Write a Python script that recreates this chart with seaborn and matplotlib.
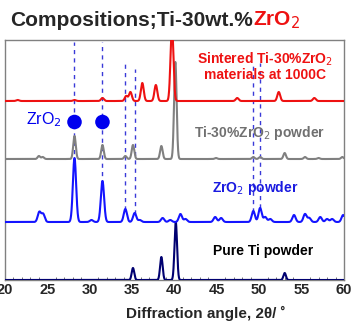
import numpy as np
import pandas as pd
import matplotlib
matplotlib.use('Agg')
import matplotlib.pyplot as plt
import seaborn as sns

sns.set_style('white')
plt.rcParams['font.family'] = ['Liberation Sans', 'DejaVu Sans']

# 피크 위치(2theta), 높이, 폭 - 그림에서 읽은 값
ti_pos = [35.1, 38.45, 40.15, 53.0]
ti_h = [12, 23, 58, 7]
ti_base = 0

zro2_pos = [24.05, 24.5, 28.2, 30.2, 31.5, 34.2, 35.3, 35.9, 38.6, 39.5, 40.7, 41.3, 44.8, 45.5,
            49.3, 50.1, 50.7, 51.3, 54.1, 55.4, 55.9, 57.2, 58.0, 58.6, 59.9]
zro2_h = [10, 8, 64, 2, 41, 13, 9, 2, 4, 2, 8, 3, 5, 4,
          11, 14, 5, 3, 7, 8, 4, 5, 3, 3, 7]
zro2_base = 58

mix_pos = [24.0, 24.45, 28.2, 31.5, 34.2, 35.1, 38.45, 40.1, 44.9, 49.3, 50.1, 53.0, 55.4, 57.0, 59.8]
mix_h = [3, 2, 23, 14, 3, 14, 13, 97, 1, 2, 2, 6, 2, 1, 2]
mix_base = 121

sint_pos = [21.5, 28.2, 31.5, 34.3, 34.8, 36.2, 37.8, 39.7, 47.4, 52.3, 56.5]
sint_h = [1, 1, 3, 5, 9, 18, 16, 75, 3, 9, 3]
sint_base = 179

# ZrO2 기준선 (점선)
ref_x = [28.2, 31.5, 34.2, 35.3, 49.3, 50.1]
ref_ymin = [118, 96, 70, 66, 68, 72]
ref_ymax = [238, 238, 217, 211, 217, 217]

twotheta = np.linspace(20, 60, 4001)


def pattern(pos, h, base, w):
    y = np.full_like(twotheta, float(base))
    for p, hh in zip(pos, h):
        y += hh * np.exp(-0.5 * ((twotheta - p) / w) ** 2)
    return y


df = pd.DataFrame({
    '2theta': twotheta,
    'ti': pattern(ti_pos, ti_h, ti_base, 0.15),
    'zro2': pattern(zro2_pos, zro2_h, zro2_base, 0.19),
    'mix': pattern(mix_pos, mix_h, mix_base, 0.15),
    'sint': pattern(sint_pos, sint_h, sint_base, 0.17),
})

fig = plt.figure(figsize=(3.56, 3.27), dpi=100)
ax = fig.add_axes([5 / 356, 47 / 327, 339 / 356, 240 / 327])

ax.vlines(ref_x, ref_ymin, ref_ymax, colors='#3a3ad8', linestyles=(0, (3, 3)), linewidth=1.0, zorder=1)

sns.lineplot(data=df, x='2theta', y='ti', color='#000070', linewidth=1.5, ax=ax, zorder=3)
sns.lineplot(data=df, x='2theta', y='zro2', color='#1414ff', linewidth=1.5, ax=ax, zorder=3)
sns.lineplot(data=df, x='2theta', y='mix', color='#808080', linewidth=1.5, ax=ax, zorder=3)
sns.lineplot(data=df, x='2theta', y='sint', color='#ee1111', linewidth=1.5, ax=ax, zorder=3)

sns.scatterplot(x=[28.2, 31.5], y=[158, 158], s=110, color='#0000ee', edgecolor='none', ax=ax, zorder=4)
ax.text(26.7, 160, 'ZrO$_2$', color='#0000ee', fontsize=11.5, ha='right', va='center')

ax.text(50.7, 214, 'Sintered Ti-30%ZrO$_2$\nmaterials at 1000C', color='#ee1111', fontsize=10,
        fontweight='bold', ha='center', va='center', linespacing=1.0)
ax.text(50.0, 147, 'Ti-30%ZrO$_2$ powder', color='#707070', fontsize=10, fontweight='bold',
        ha='center', va='center')
ax.text(49.5, 92, 'ZrO$_2$ powder', color='#1a1ae0', fontsize=10, fontweight='bold',
        ha='center', va='center')
ax.text(50.5, 29, 'Pure Ti powder', color='black', fontsize=10, fontweight='bold',
        ha='center', va='center')

ax.set_xlim(20, 60)
ax.set_ylim(0, 240)
ax.set_xticks([20, 25, 30, 35, 40, 45, 50, 55, 60])
ax.set_xticks(np.arange(20, 61, 1), minor=True)
ax.set_yticks([])
ax.tick_params(axis='x', which='major', direction='in', length=4, labelsize=10.5, pad=2, color='#606060')
ax.tick_params(axis='x', which='minor', direction='in', length=2, color='#606060', bottom=True)
for lab in ax.get_xticklabels():
    lab.set_fontweight('bold')
ax.set_xlabel('')
ax.set_ylabel('')
for sp in ax.spines.values():
    sp.set_color('#808080')
    sp.set_linewidth(1.0)

fig.text(206 / 356, 14 / 327, 'Diffraction angle, 2\u03b8/ \u02da', fontsize=11, fontweight='bold',
         ha='center', va='center')

# 제목 (검정 + 빨강)
t1 = fig.text(10 / 356, 307 / 327, 'Compositions;Ti-30wt.%', fontsize=15, fontweight='bold',
              ha='left', va='center')
fig.canvas.draw()
bb = t1.get_window_extent(renderer=fig.canvas.get_renderer())
fig.text(bb.x1 / (fig.dpi * 3.56), 307 / 327, 'ZrO$_2$', fontsize=15, fontweight='bold',
         color='#ee1111', ha='left', va='center')

fig.savefig('out.png', dpi=100)
